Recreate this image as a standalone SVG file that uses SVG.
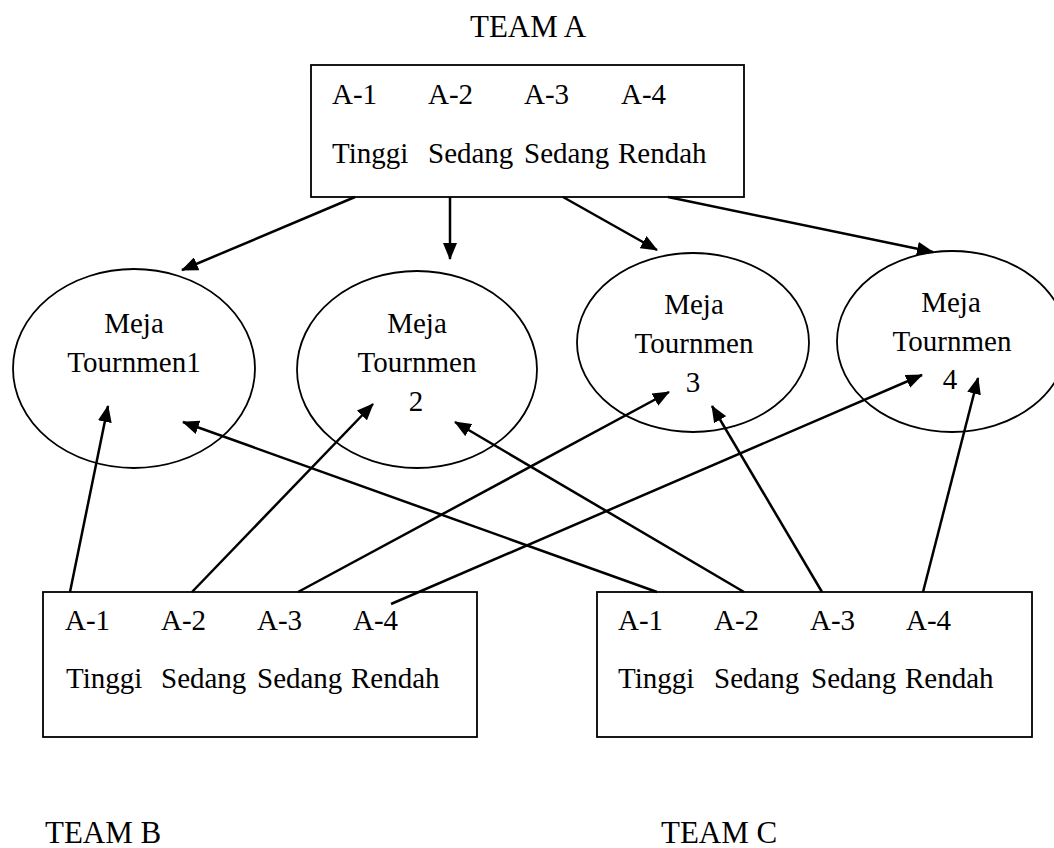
<svg xmlns="http://www.w3.org/2000/svg" width="1054" height="848" viewBox="0 0 1054 848">
<style>
text{font-family:"Liberation Serif","Times New Roman",serif;fill:#000}
.t{font-size:29px}
.team{font-size:31px}
.c{text-anchor:middle}
.box{fill:#fff;stroke:#000;stroke-width:1.8}
.ell{fill:none;stroke:#000;stroke-width:1.8}
.con line{stroke:#000;stroke-width:2.5;marker-end:url(#ah)}
</style>
<defs>
<marker id="ah" viewBox="0 0 17 14" refX="16" refY="7" markerWidth="17" markerHeight="14" markerUnits="userSpaceOnUse" orient="auto">
<path d="M0,0 L17,7 L0,14 z" fill="#000"/>
</marker>
</defs>
<rect width="1054" height="848" fill="#fff"/>
<g id="teamA">
<text class="team" x="470" y="37">TEAM A</text>
<rect class="box" x="311" y="65" width="433" height="132"/>
<text class="t" y="104"><tspan x="332">A-1</tspan><tspan x="428">A-2</tspan><tspan x="524">A-3</tspan><tspan x="621">A-4</tspan></text>
<text class="t" y="163"><tspan x="332">Tinggi</tspan><tspan x="428">Sedang</tspan><tspan x="524">Sedang</tspan><tspan x="618">Rendah</tspan></text>
</g>
<g id="meja1">
<ellipse class="ell" cx="134" cy="368.5" rx="121" ry="99.5"/>
<text class="t c" x="134" y="333">Meja</text>
<text class="t c" x="134" y="372">Tournmen1</text>
</g>
<g id="meja2">
<ellipse class="ell" cx="417" cy="369.5" rx="120" ry="98.5"/>
<text class="t c" x="417" y="333">Meja</text>
<text class="t c" x="417" y="372">Tournmen</text>
<text class="t c" x="416" y="411">2</text>
</g>
<g id="meja3">
<ellipse class="ell" cx="693" cy="342.5" rx="116" ry="89.5"/>
<text class="t c" x="694" y="314">Meja</text>
<text class="t c" x="694" y="353">Tournmen</text>
<text class="t c" x="693" y="392">3</text>
</g>
<g id="meja4">
<ellipse class="ell" cx="952" cy="341.5" rx="115" ry="90.5"/>
<text class="t c" x="951" y="312">Meja</text>
<text class="t c" x="952" y="351">Tournmen</text>
<text class="t c" x="950" y="389">4</text>
</g>
<g id="teamB">
<rect class="box" x="43" y="592" width="434" height="145"/>
<text class="t" y="630"><tspan x="65">A-1</tspan><tspan x="161">A-2</tspan><tspan x="257">A-3</tspan><tspan x="353">A-4</tspan></text>
<text class="t" y="688"><tspan x="66">Tinggi</tspan><tspan x="161">Sedang</tspan><tspan x="257">Sedang</tspan><tspan x="351">Rendah</tspan></text>
<text class="team" x="45" y="843">TEAM B</text>
</g>
<g id="teamC">
<rect class="box" x="597" y="592" width="435" height="145"/>
<text class="t" y="630"><tspan x="618">A-1</tspan><tspan x="714">A-2</tspan><tspan x="810">A-3</tspan><tspan x="906">A-4</tspan></text>
<text class="t" y="688"><tspan x="618">Tinggi</tspan><tspan x="714">Sedang</tspan><tspan x="811">Sedang</tspan><tspan x="905">Rendah</tspan></text>
<text class="team" x="661" y="843">TEAM C</text>
</g>
<g id="connectors" class="con">
<line x1="355" y1="197" x2="182" y2="270"/>
<line x1="450" y1="197" x2="450" y2="259"/>
<line x1="563" y1="197" x2="657" y2="250"/>
<line x1="668" y1="197" x2="933" y2="252"/>
<line x1="70" y1="592" x2="108" y2="406"/>
<line x1="192" y1="592" x2="373" y2="404"/>
<line x1="298" y1="592" x2="669" y2="392"/>
<line x1="391" y1="604" x2="922" y2="375"/>
<line x1="657" y1="592" x2="183" y2="422"/>
<line x1="744" y1="592" x2="455" y2="422"/>
<line x1="822" y1="592" x2="712" y2="406"/>
<line x1="923" y1="592" x2="978" y2="378"/>
</g>
</svg>
